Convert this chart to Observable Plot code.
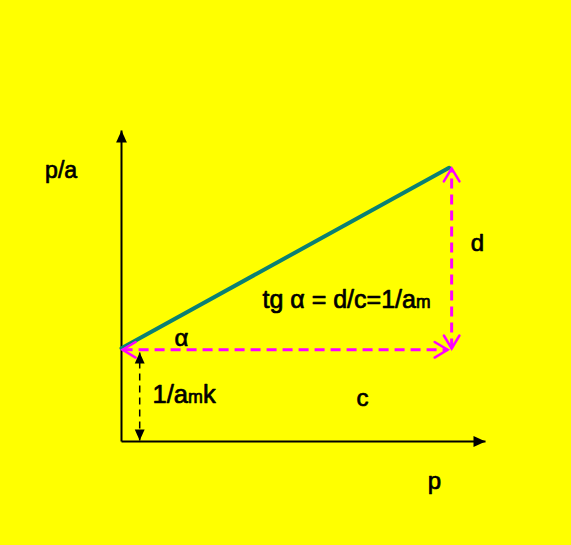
<!DOCTYPE html>
<html>
<head>
<meta charset="utf-8">
<script src="https://cdn.jsdelivr.net/npm/d3@7"></script>
<script src="https://cdn.jsdelivr.net/npm/@observablehq/plot@0.6"></script>
<style>
  html, body { margin: 0; padding: 0; background: #FFFF00; }
</style>
</head>
<body>
<div id="chart"></div>
<script>
// Isotherm (linearised Langmuir): p/a versus p
const lineP = [0, 9];          // p values of the drawn line
const lineV = [3, 8.8];        // p/a values of the drawn line (intercept 1/(a_m k) = 3)

// axes extents (data units)
const axisMax = 10;

// dimension arrows
const cArrow = {x1: 0.03, y1: 2.95, x2: 8.96, y2: 2.95};     // "c"
const dArrow = {x1: 9.07, y1: 2.99, x2: 9.07, y2: 8.78};     // "d"
const kArrow = {x1: 0.5, y1: 0.03, x2: 0.5, y2: 2.86};       // "1/a_m k"

// labels
const labelText = ["p/a", "p", "d", "c", "α", "tg α = d/c=1/a{m}", "1/a{m}k"];
const labelX    = [-1.66, 8.6, 9.78, 6.62, 1.65, 6.18, 1.72];
const labelY    = [8.71, -1.29, 6.37, 1.38, 3.31, 4.28, 1.25];
const labelSize = [23, 24, 24, 24, 24, 25, 25.5];
const labelAnchor = ["middle", "middle", "middle", "middle", "middle", "bottom", "bottom"];

const labels = labelText.map((t, i) => ({text: t, x: labelX[i], y: labelY[i], size: labelSize[i], anchor: labelAnchor[i]}));
const line = lineP.map((p, i) => ({p, v: lineV[i]}));

// custom symbols: tip at origin, pointing up (rotate to orient)
const triangle = {
  draw(ctx, size) {
    const r = Math.sqrt(size / Math.PI);
    ctx.moveTo(0, 0);
    ctx.lineTo(-0.45 * r, r);
    ctx.lineTo(0.45 * r, r);
    ctx.closePath();
  }
};
const chevron = {
  draw(ctx, size) {
    const r = Math.sqrt(size / Math.PI);
    ctx.moveTo(-0.6 * r, r);
    ctx.lineTo(0, 0);
    ctx.lineTo(0.6 * r, r);
  }
};

const axisTips = [
  {x: 0, y: axisMax, rot: 0},
  {x: axisMax, y: 0, rot: 90}
];
const kTips = [
  {x: kArrow.x2, y: kArrow.y2, rot: 0},
  {x: kArrow.x1, y: kArrow.y1, rot: 180}
];
const magentaTips = [
  {x: cArrow.x1, y: cArrow.y1, rot: 270},
  {x: cArrow.x2, y: cArrow.y2, rot: 90},
  {x: dArrow.x2, y: dArrow.y2, rot: 0},
  {x: dArrow.x1, y: dArrow.y1, rot: 180}
];

const textMarks = labels.map(d => Plot.text([d], {
  x: "x", y: "y", text: "text", fontSize: d.size, fill: "black",
  stroke: "black", strokeWidth: 0.7, lineAnchor: d.anchor
}));

const svg = Plot.plot({
  width: 571,
  height: 545,
  marginLeft: 121,
  marginRight: 86,
  marginTop: 130,
  marginBottom: 104,
  x: {domain: [0, axisMax], axis: null},
  y: {domain: [0, axisMax], axis: null},
  style: {background: "#FFFF00", fontFamily: "'Liberation Sans', Arial, sans-serif", color: "black"},
  marks: [
    // axes
    Plot.link([{x1: 0, y1: 0, x2: 0, y2: axisMax}, {x1: 0, y1: 0, x2: axisMax, y2: 0}],
      {x1: "x1", y1: "y1", x2: "x2", y2: "y2", stroke: "black", strokeWidth: 2}),
    Plot.dot(axisTips, {x: "x", y: "y", rotate: "rot", symbol: triangle, r: 12, fill: "black", stroke: "none"}),
    // black dashed arrow
    Plot.link([kArrow], {x1: "x1", y1: "y1", x2: "x2", y2: "y2", stroke: "black", strokeWidth: 1.5, strokeDasharray: "7,5"}),
    Plot.dot(kTips, {x: "x", y: "y", rotate: "rot", symbol: triangle, r: 11, fill: "black", stroke: "none"}),
    // magenta dashed arrows
    Plot.link([cArrow, dArrow], {x1: "x1", y1: "y1", x2: "x2", y2: "y2", stroke: "#FF00FF", strokeWidth: 3, strokeDasharray: "10,6"}),
    // teal line
    Plot.line(line, {x: "p", y: "v", stroke: "#0A8074", strokeWidth: 4}),
    Plot.dot(magentaTips, {x: "x", y: "y", rotate: "rot", symbol: chevron, r: 13, fill: "none", stroke: "#FF00FF", strokeWidth: 2.5, strokeLinecap: "round"}),
    // labels
    ...textMarks
  ]
});

// turn {x} into subscripts
d3.select(svg).selectAll("text").each(function () {
  const t = this.textContent;
  if (!t.includes("{")) return;
  const parts = t.split(/(\{[^}]*\})/);
  this.textContent = "";
  parts.forEach(p => {
    if (!p) return;
    const ts = d3.select(this).append("tspan");
    if (p.startsWith("{")) ts.text(p.slice(1, -1)).attr("font-size", "0.7em");
    else ts.text(p);
  });
});

document.getElementById("chart").appendChild(svg);
</script>
</body>
</html>
